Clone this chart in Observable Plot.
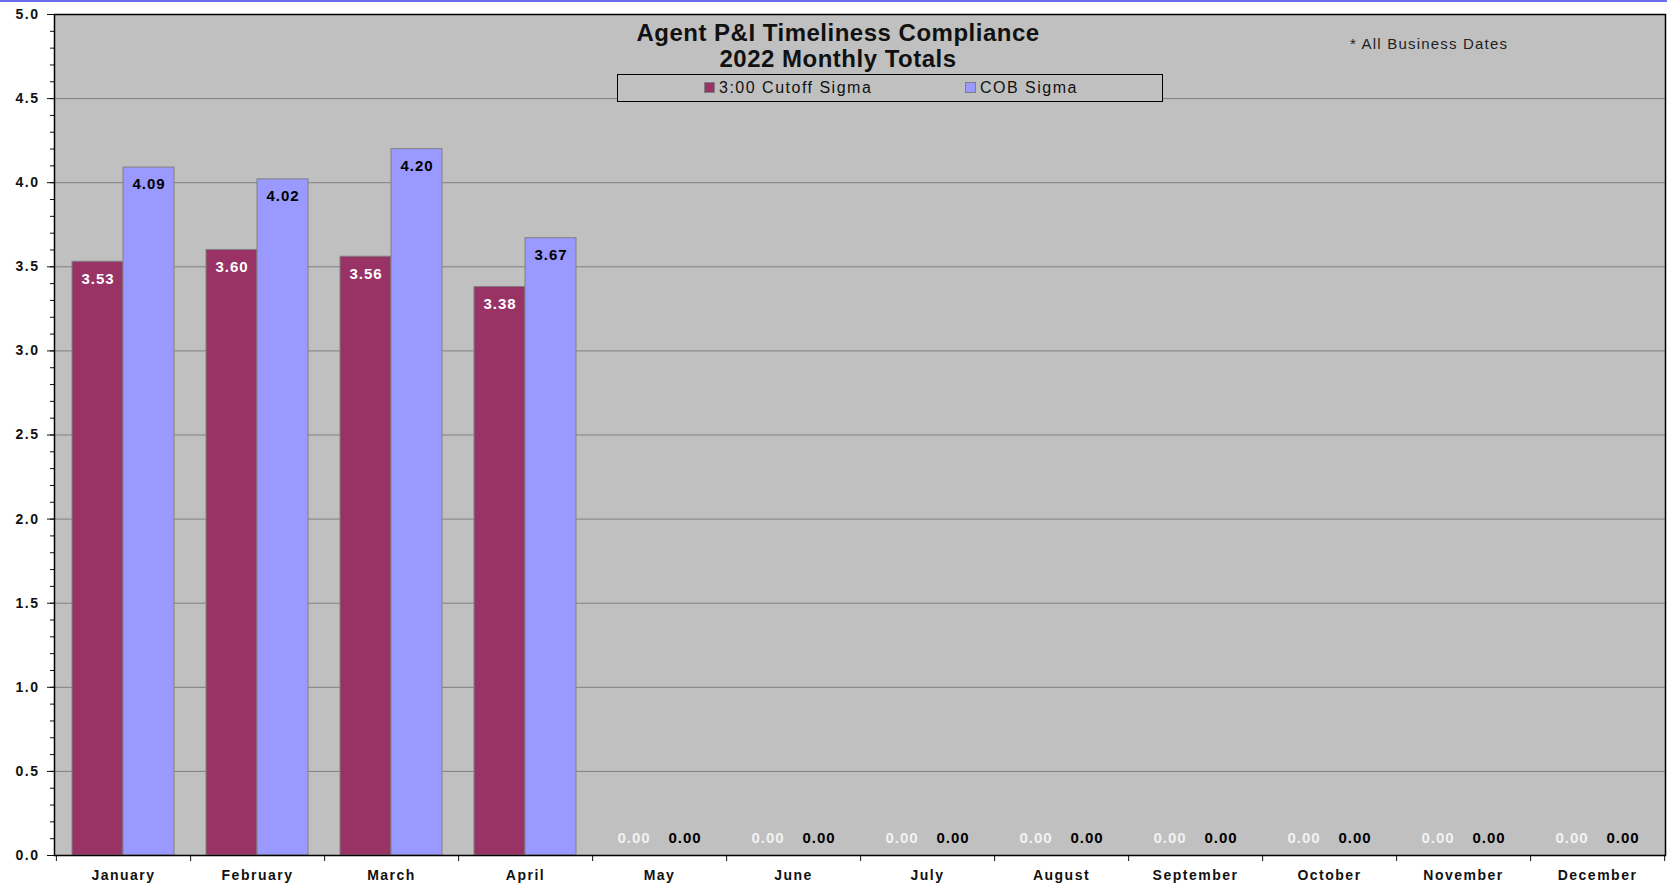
<!DOCTYPE html>
<html>
<head>
<meta charset="utf-8">
<script src="https://cdn.jsdelivr.net/npm/d3@7"></script>
<script src="https://cdn.jsdelivr.net/npm/@observablehq/plot@0.6"></script>
<style>
  html, body { margin: 0; padding: 0; background: #fff; }
  #wrap { position: relative; width: 1667px; height: 886px; overflow: hidden; font-family: "Liberation Sans", Arial, sans-serif; }
  #wrap svg { position: absolute; left: 0; top: 0; }
  #topline { position: absolute; left: 0; top: 0; width: 1667px; height: 2px; background: #6b6bef; }
  #title { position: absolute; left: 538px; top: 20px; width: 600px; text-align: center; font-size: 24px; line-height: 26px; font-weight: bold; letter-spacing: 0.5px; color: #111; }
  #legend { position: absolute; left: 617px; top: 74px; width: 544px; height: 26px; border: 1.5px solid #000; background: #c0c0c0; }
  .item { position: absolute; top: 0; height: 26px; line-height: 26px; font-size: 16px; letter-spacing: 1.5px; color: #111; white-space: nowrap; }
  .sw { display: inline-block; width: 9px; height: 9px; border: 1px solid #808080; margin-right: 4px; vertical-align: 0px; }
  #note { position: absolute; left: 1350px; top: 35px; font-size: 15px; line-height: 18px; letter-spacing: 1.2px; color: #222; white-space: nowrap; }
</style>
</head>
<body>
<div id="wrap"></div>
<script>
// ---- data ----
const months = ["January","February","March","April","May","June","July","August","September","October","November","December"];
const seriesNames = ["3:00 Cutoff Sigma", "COB Sigma"];
const cutoffSigma = [3.53, 3.60, 3.56, 3.38, 0, 0, 0, 0, 0, 0, 0, 0];
const cobSigma    = [4.09, 4.02, 4.20, 3.67, 0, 0, 0, 0, 0, 0, 0, 0];
const seriesColors = ["#993366", "#9999FF"];
const yTicks = [0, 0.5, 1.0, 1.5, 2.0, 2.5, 3.0, 3.5, 4.0, 4.5, 5.0];
const yMinorTicks = d3.range(0, 50.5, 1).map(d => d / 10);
const titleLines = ["Agent P&I Timeliness Compliance", "2022 Monthly Totals"];
const noteText = "* All Business Dates";

const rows = months.flatMap((m, i) => [
  {month: m, series: seriesNames[0], value: cutoffSigma[i]},
  {month: m, series: seriesNames[1], value: cobSigma[i]}
]);

// ---- layout ----
const W = 1667, H = 886, mL = 54, mR = 2, mT = 14, mB = 31;
const step = (W - mL - mR) / months.length;
const font = '"Liberation Sans", Arial, sans-serif';
const dims = {width: W, height: H, marginLeft: mL, marginRight: mR, marginTop: mT, marginBottom: mB};

// layer 1: background, grid
const base = Plot.plot({
  ...dims,
  x: {type: "band", domain: months, padding: 0, axis: null},
  y: {domain: [0, 5], axis: null},
  style: {background: "transparent"},
  marks: [
    Plot.frame({fill: "#c0c0c0"}),
    Plot.gridY(yTicks.slice(1, -1), {stroke: "#808080", strokeOpacity: 1, strokeWidth: 1})
  ]
});

// layer 2: bars and labels
const labelOpts = (filter, dy, fill) => ({
  filter, fx: "month", x: "series", y: "value",
  text: d => d.value.toFixed(2), dy, fill,
  fontSize: 15, fontWeight: "bold"
});

const bars = Plot.plot({
  ...dims,
  fx: {domain: months, paddingInner: 0.23, paddingOuter: 0.115, axis: null, label: null},
  x: {domain: seriesNames, padding: 0, axis: null},
  y: {domain: [0, 5], axis: null},
  color: {domain: seriesNames, range: seriesColors},
  style: {background: "transparent", fontFamily: font, letterSpacing: "1px"},
  marks: [
    Plot.barY(rows, {filter: d => d.value > 0, fx: "month", x: "series", y: "value", fill: "series", stroke: "#808080", strokeWidth: 1}),
    Plot.text(rows, labelOpts(d => d.series === seriesNames[0] && d.value > 0, 17, "#ffffff")),
    Plot.text(rows, labelOpts(d => d.series === seriesNames[1] && d.value > 0, 17, "#000000")),
    Plot.text(rows, labelOpts(d => d.series === seriesNames[0] && d.value === 0, -17, "#f2f2f2")),
    Plot.text(rows, labelOpts(d => d.series === seriesNames[1] && d.value === 0, -17, "#000000"))
  ]
});

// layer 3: axes and frame border
const axes = Plot.plot({
  ...dims,
  x: {type: "band", domain: months, padding: 0},
  y: {domain: [0, 5]},
  style: {background: "transparent", fontFamily: font, fontSize: "14px", fontWeight: "bold", letterSpacing: "1.5px", color: "#111"},
  marks: [
    Plot.axisY(yMinorTicks, {tickSize: 4, tickFormat: () => ""}),
    Plot.axisY(yTicks, {tickSize: 7, tickPadding: 8, tickFormat: d3.format(".1f")}),
    Plot.axisX({tickSize: 0, tickPadding: 15}),
    Plot.axisX({tickSize: 6, tickFormat: () => "", dx: step / 2}),
    Plot.axisX(months.slice(0, 1), {tickSize: 6, tickFormat: () => "", dx: -step / 2}),
    Plot.frame({stroke: "#000", strokeWidth: 1.5})
  ]
});

const wrap = document.getElementById("wrap");
wrap.appendChild(base);
wrap.appendChild(bars);
wrap.appendChild(axes);

const topline = document.createElement("div");
topline.id = "topline";
wrap.appendChild(topline);

const title = document.createElement("div");
title.id = "title";
titleLines.forEach(t => { const l = document.createElement("div"); l.textContent = t; title.appendChild(l); });
wrap.appendChild(title);

const legend = document.createElement("div");
legend.id = "legend";
const itemLefts = [86, 347];
seriesNames.forEach((s, i) => {
  const it = document.createElement("div");
  it.className = "item";
  it.style.left = itemLefts[i] + "px";
  const sw = document.createElement("span");
  sw.className = "sw";
  sw.style.background = seriesColors[i];
  it.appendChild(sw);
  it.appendChild(document.createTextNode(s));
  legend.appendChild(it);
});
wrap.appendChild(legend);

const note = document.createElement("div");
note.id = "note";
note.textContent = noteText;
wrap.appendChild(note);
</script>
</body>
</html>
